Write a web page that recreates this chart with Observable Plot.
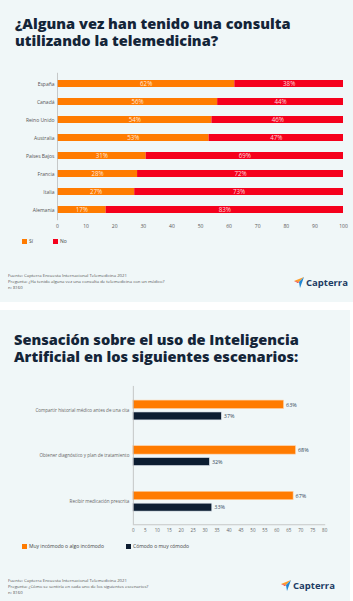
<!DOCTYPE html>
<html><head><meta charset="utf-8">
<script src="https://cdn.jsdelivr.net/npm/d3@7"></script>
<script src="https://cdn.jsdelivr.net/npm/@observablehq/plot@0.6"></script>
<style>
body{margin:0;width:353px;height:601px;background:#fff;position:relative;overflow:hidden;font-family:"Open Sans",sans-serif}
.card{position:absolute;background:#f0f7f8}
.abs{position:absolute}
.title{position:absolute;font-weight:800;font-size:14.6px;color:#142538;white-space:nowrap}
.title span{display:block;height:16.5px;line-height:16.5px}
.foot{position:absolute;font-size:4.3px;line-height:6px;color:#555;white-space:nowrap}
.leg{position:absolute;font-size:5px;color:#444;white-space:nowrap;display:flex;align-items:center}
.sw{display:inline-block;width:5px;height:5px;margin-right:2px}
.logo{position:absolute;display:flex;align-items:center;font-weight:700;font-size:9.5px;color:#1d3c64}
</style></head>
<body>
<div class="card" style="left:0;top:0;width:353px;height:302px">
  <div class="title" style="left:15px;top:15px"><span>¿Alguna vez han tenido una consulta</span><span>utilizando la telemedicina?</span></div>
  <div id="p1" class="abs" style="left:0;top:60px"></div>
  <div id="leg1"></div>
  <div class="foot" style="left:8px;top:272px">Fuente: Capterra Encuesta Internacional Telemedicina 2021<br>Pregunta: ¿Ha tenido alguna vez una consulta de telemedicina con un médico?<br>n: 8160</div>
  <div class="logo" style="left:294px;top:276px"><svg width="11" height="11" viewBox="0 0 11 11"><polygon points="0,4 10,0 5,5" fill="#ff9d28"/><polygon points="5,5 10,0 6,11" fill="#1f87d6"/><polygon points="0,4 5,5 4,6" fill="#e8262f"/></svg><span style="margin-left:1px">Capterra</span></div>
</div>
<div class="card" style="left:0;top:310px;width:350px;height:291px">
  <div class="title" style="left:14px;top:21px"><span>Sensación sobre el uso de Inteligencia</span><span>Artificial en los siguientes escenarios:</span></div>
  <div id="p2" class="abs" style="left:0;top:70px"></div>
  <div id="leg2"></div>
  <div class="foot" style="left:8px;top:267px">Fuente: Capterra Encuesta Internacional Telemedicina 2021<br>Pregunta: ¿Cómo se sentiría en cada uno de los siguientes escenarios?<br>n: 8160</div>
  <div class="logo" style="left:281px;top:269px"><svg width="11" height="11" viewBox="0 0 11 11"><polygon points="0,4 10,0 5,5" fill="#ff9d28"/><polygon points="5,5 10,0 6,11" fill="#1f87d6"/><polygon points="0,4 5,5 4,6" fill="#e8262f"/></svg><span style="margin-left:1px">Capterra</span></div>
</div>
<script>
// ---- Chart 1 data ----
const countries = ["España","Canadá","Reino Unido","Australia","Países Bajos","Francia","Italia","Alemania"];
const si = [62,56,54,53,31,28,27,17];
const no = [38,44,46,47,69,72,73,83];
const answers1 = ["Sí","No"];
const colors1 = ["#ff7b00","#f5001c"];
const xTicks1 = [0,10,20,30,40,50,60,70,80,90,100];

// ---- Chart 2 data ----
const scenarios = ["Compartir historial médico antes de una cita","Obtener diagnóstico y plan de tratamiento","Recibir medicación prescrita"];
const incomodo = [63,68,67];
const comodo = [37,32,33];
const series2 = ["Muy incómodo o algo incómodo","Cómodo o muy cómodo"];
const colors2 = ["#ff7b00","#0c1d31"];
const xTicks2 = [0,5,10,15,20,25,30,35,40,45,50,55,60,65,70,75,80];

const rows1 = [];
countries.forEach((c,i)=>{rows1.push({country:c,answer:"Sí",value:si[i]});rows1.push({country:c,answer:"No",value:no[i]});});

const p1 = Plot.plot({
  width:353, height:172, marginLeft:57, marginRight:10, marginTop:12.8, marginBottom:11.8,
  style:{background:"transparent", fontFamily:"Open Sans", fontSize:"5px", color:"#555"},
  x:{domain:[0,100], ticks:xTicks1, tickSize:0, tickPadding:3.5, label:null},
  y:{domain:countries, paddingInner:0.59, paddingOuter:0.295, tickSize:0, tickPadding:3, label:null},
  color:{domain:answers1, range:colors1},
  marks:[
    Plot.barX(rows1, Plot.stackX({x:"value", y:"country", fill:"answer", order:answers1})),
    Plot.text(rows1, Plot.stackX({x:"value", y:"country", z:"answer", order:answers1, text:d=>d.value+"%", fill:"#fff", fillOpacity:0.85, fontSize:6.2, dy:0.5})),
    Plot.ruleX([0], {stroke:"#bbb", strokeWidth:0.8})
  ]
});
document.getElementById("p1").appendChild(p1);

const leg1 = document.getElementById("leg1");
answers1.forEach((a,i)=>{
  const d = document.createElement("div"); d.className="leg";
  d.style.left = (22+i*31)+"px"; d.style.top="238px";
  d.innerHTML = `<span class="sw" style="background:${colors1[i]}"></span>${a}`;
  leg1.appendChild(d);
});

const rows2 = [];
scenarios.forEach((s,i)=>{rows2.push({scenario:s,series:series2[0],value:incomodo[i]});rows2.push({scenario:s,series:series2[1],value:comodo[i]});});
const inc = rows2.filter(d=>d.series===series2[0]);
const com = rows2.filter(d=>d.series===series2[1]);

const p2 = Plot.plot({
  width:353, height:160, marginLeft:134, marginRight:26, marginTop:6, marginBottom:14.5,
  style:{background:"transparent", fontFamily:"Open Sans", fontSize:"4.6px", color:"#666"},
  x:{domain:[0,80], ticks:xTicks2, tickSize:0, tickPadding:4.5, label:null},
  y:{domain:scenarios, padding:0, tickSize:0, tickPadding:4, label:null},
  color:{domain:series2, range:colors2},
  marks:[
    Plot.barX(inc, {x:"value", y:"scenario", fill:"series", stroke:"#ffd2a8", strokeWidth:0.6, insetTop:13.25, insetBottom:24.25}),
    Plot.barX(com, {x:"value", y:"scenario", fill:"series", stroke:"#dfe6ee", strokeWidth:0.6, insetTop:25.25, insetBottom:12.75}),
    Plot.text(inc, {x:"value", y:"scenario", text:d=>d.value+"%", textAnchor:"start", dx:2, dy:-5.5, fill:"#33475b", fontSize:5.5}),
    Plot.text(com, {x:"value", y:"scenario", text:d=>d.value+"%", textAnchor:"start", dx:2, dy:6.3, fill:"#33475b", fontSize:5.5}),
    Plot.ruleX([0], {stroke:"#bbb", strokeWidth:0.8}),
    Plot.frame({anchor:"bottom", stroke:"#bbb", strokeWidth:0.8})
  ]
});
document.getElementById("p2").appendChild(p2);

const leg2 = document.getElementById("leg2");
series2.forEach((a,i)=>{
  const d = document.createElement("div"); d.className="leg";
  d.style.left = (22+i*104)+"px"; d.style.top="233px";
  d.innerHTML = `<span class="sw" style="background:${colors2[i]}"></span>${a}`;
  leg2.appendChild(d);
});
</script>
</body></html>
